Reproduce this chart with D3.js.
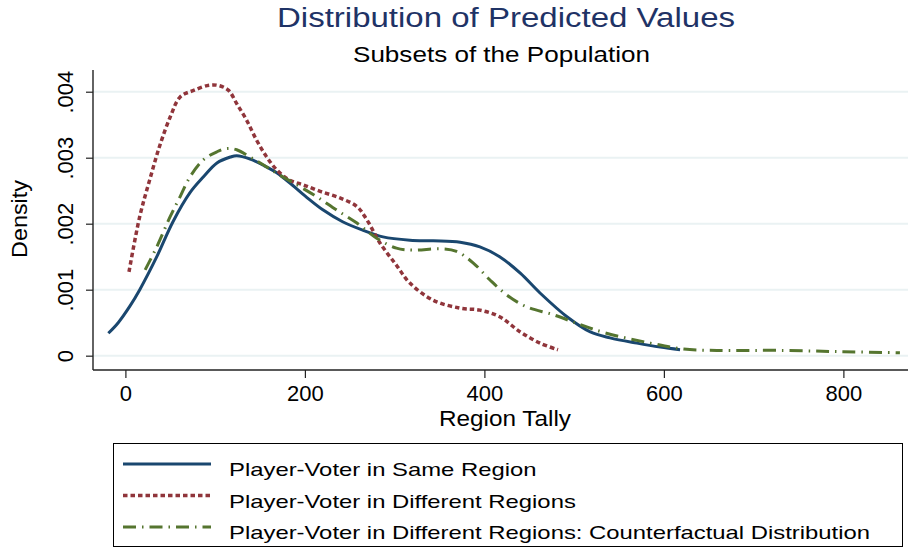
<!DOCTYPE html>
<html>
<head>
<meta charset="utf-8">
<script src="https://cdn.jsdelivr.net/npm/d3@7"></script>
<style>
  body { margin: 0; background: #fff; }
  svg { display: block; font-family: "Liberation Sans", Arial, Helvetica, sans-serif; }
</style>
</head>
<body>
<div id="chart"></div>
<script>
// Data (kernel density estimates)

// Player-Voter in Same Region
let sameX = [-19, -8, 5, 16, 35, 53, 72, 87, 102, 117, 124, 139, 153, 169, 183, 202, 220, 242, 265, 287, 317, 343, 373, 395, 417, 440, 462, 492, 518, 540, 570, 596, 618];
let sameY = [0.00034, 0.0005, 0.00075, 0.001, 0.0015, 0.00203, 0.00247, 0.00271, 0.00292, 0.00301, 0.00303, 0.00298, 0.00289, 0.00277, 0.00262, 0.0024, 0.00221, 0.00203, 0.0019, 0.0018, 0.00175, 0.00174, 0.00172, 0.00165, 0.0015, 0.00125, 0.00095, 0.00059, 0.00036, 0.00027, 0.00019, 0.00013, 0.00009];

// Player-Voter in Different Regions
let diffX = [4, 16, 27, 38, 50, 61, 76, 94, 105, 115, 124, 135, 146, 157, 169, 183, 198, 217, 239, 258, 269, 284, 302, 317, 343, 373, 395, 417, 440, 462, 482];
let diffY = [0.00127, 0.00211, 0.00266, 0.00317, 0.00362, 0.00392, 0.00402, 0.0041, 0.00409, 0.00402, 0.00382, 0.00357, 0.00327, 0.00302, 0.00281, 0.00266, 0.00259, 0.00249, 0.00239, 0.00226, 0.00206, 0.0017, 0.00137, 0.0011, 0.00084, 0.00072, 0.00069, 0.00059, 0.00036, 0.00019, 0.00009];

// Player-Voter in Different Regions: Counterfactual Distribution
let cfX = [22, 35, 50, 61, 72, 87, 102, 113, 124, 139, 154, 169, 191, 213, 235, 258, 280, 302, 321, 351, 369, 388, 406, 425, 447, 477, 507, 536, 585, 622, 659, 733, 800, 863];
let cfY = [0.0013, 0.00165, 0.00211, 0.00241, 0.00271, 0.00297, 0.00309, 0.00314, 0.00312, 0.00301, 0.00289, 0.00276, 0.00259, 0.00241, 0.00221, 0.00201, 0.00178, 0.00163, 0.0016, 0.00162, 0.00158, 0.0014, 0.00115, 0.00092, 0.00074, 0.00062, 0.00047, 0.00034, 0.00019, 0.0001, 0.00008, 0.00008, 0.00006, 0.000045];

let xTicks = [0, 200, 400, 600, 800];
let yTicks = [0, 0.001, 0.002, 0.003, 0.004];
let seriesNames = [
  "Player-Voter in Same Region",
  "Player-Voter in Different Regions",
  "Player-Voter in Different Regions: Counterfactual Distribution"
];

let width = 908;
let height = 548;

// plot region
let plotLeft = 93, plotRight = 908, plotTop = 70, plotBottom = 370;

// the Stata export is stretched sideways, so text is widened a bit
let textStretch = 1.255;

let svg = d3.select("#chart").append("svg")
  .attr("width", width)
  .attr("height", height);

let xScale = d3.scaleLinear().domain([-36.1, 872]).range([plotLeft, plotRight]);
let yScale = d3.scaleLinear().domain([-0.000217, 0.004329]).range([plotBottom, plotTop]);

// gridlines
svg.append("g")
  .selectAll("line")
  .data(yTicks)
  .enter()
  .append("line")
  .attr("x1", plotLeft)
  .attr("x2", plotRight)
  .attr("y1", d => yScale(d))
  .attr("y2", d => yScale(d))
  .attr("stroke", "#eaf2f3")
  .attr("stroke-width", 2);

// axes
let xAxis = d3.axisBottom(xScale).tickValues(xTicks).tickSize(8).tickPadding(7).tickFormat(d3.format("d"));
let yAxis = d3.axisLeft(yScale).tickValues(yTicks).tickSize(7).tickPadding(6)
  .tickFormat(d => d === 0 ? "0" : d3.format(".3f")(d).replace(/^0/, ""));

let gx = svg.append("g")
  .attr("transform", "translate(0," + plotBottom + ")")
  .call(xAxis);
gx.select(".domain").attr("d", "M" + plotLeft + ",0H" + plotRight).attr("stroke", "#222").attr("stroke-width", 1.4);
gx.selectAll(".tick line").attr("stroke", "#222").attr("stroke-width", 1.2);
gx.selectAll(".tick text").attr("font-size", 22).attr("fill", "#000")
  .attr("font-family", "Liberation Sans, Arial, sans-serif");

let gy = svg.append("g")
  .attr("transform", "translate(" + plotLeft + ",0)")
  .call(yAxis);
gy.select(".domain").attr("d", "M0," + plotTop + "V" + plotBottom).attr("stroke", "#222").attr("stroke-width", 1.4);
gy.selectAll(".tick line").attr("stroke", "#222").attr("stroke-width", 1.2);
gy.selectAll(".tick text")
  .attr("font-size", 22)
  .attr("fill", "#000")
  .attr("font-family", "Liberation Sans, Arial, sans-serif")
  .attr("x", null)
  .attr("dy", null)
  .attr("text-anchor", "middle")
  .attr("transform", "translate(-20,0) rotate(-90)");

// titles
svg.append("text")
  .attr("x", 506).attr("y", 27)
  .attr("text-anchor", "middle")
  .attr("font-size", 27)
  .attr("fill", "#1f3366")
  .attr("textLength", 458)
  .attr("lengthAdjust", "spacingAndGlyphs")
  .text("Distribution of Predicted Values");

svg.append("text")
  .attr("x", 501.5).attr("y", 62)
  .attr("text-anchor", "middle")
  .attr("font-size", 22)
  .attr("fill", "#000")
  .attr("textLength", 297)
  .attr("lengthAdjust", "spacingAndGlyphs")
  .text("Subsets of the Population");

svg.append("text")
  .attr("x", 505).attr("y", 426)
  .attr("text-anchor", "middle")
  .attr("font-size", 22)
  .attr("fill", "#000")
  .attr("textLength", 132)
  .attr("lengthAdjust", "spacingAndGlyphs")
  .text("Region Tally");

svg.append("text")
  .attr("transform", "translate(27,219) rotate(-90)")
  .attr("text-anchor", "middle")
  .attr("font-size", 22)
  .attr("fill", "#000")
  .attr("textLength", 78)
  .attr("lengthAdjust", "spacingAndGlyphs")
  .text("Density");

// lines
let line = d3.line()
  .x(d => xScale(d[0]))
  .y(d => yScale(d[1]))
  .curve(d3.curveCatmullRom.alpha(0.5));

let styles = [
  { color: "#1a476f", dash: null, w: 3 },
  { color: "#90353b", dash: "4.5,3", w: 3.5 },
  { color: "#55752f", dash: "13,6,1.5,6", w: 3 }
];

let series = [
  d3.zip(sameX, sameY),
  d3.zip(diffX, diffY),
  d3.zip(cfX, cfY)
];

let plot = svg.append("g");
series.forEach(function(s, i) {
  plot.append("path")
    .datum(s)
    .attr("d", line)
    .attr("fill", "none")
    .attr("stroke", styles[i].color)
    .attr("stroke-width", styles[i].w)
    .attr("stroke-dasharray", styles[i].dash)
    .attr("stroke-linejoin", "round");
});

// legend
let legend = svg.append("g");
legend.append("rect")
  .attr("x", 113.5).attr("y", 443.5)
  .attr("width", 789).attr("height", 103)
  .attr("fill", "#fff")
  .attr("stroke", "#000")
  .attr("stroke-width", 1);

seriesNames.forEach(function(name, i) {
  let yy = 464 + i * 31.5;
  legend.append("line")
    .attr("x1", 123).attr("x2", 211)
    .attr("y1", yy).attr("y2", yy)
    .attr("stroke", styles[i].color)
    .attr("stroke-width", styles[i].w)
    .attr("stroke-dasharray", styles[i].dash);
  let t = legend.append("text")
    .attr("x", 229).attr("y", yy + 12)
    .attr("font-size", 19)
    .attr("fill", "#000")
    .text(name);
  let natural = t.node().getComputedTextLength();
  t.attr("textLength", natural * textStretch).attr("lengthAdjust", "spacingAndGlyphs");
});
</script>
</body>
</html>
